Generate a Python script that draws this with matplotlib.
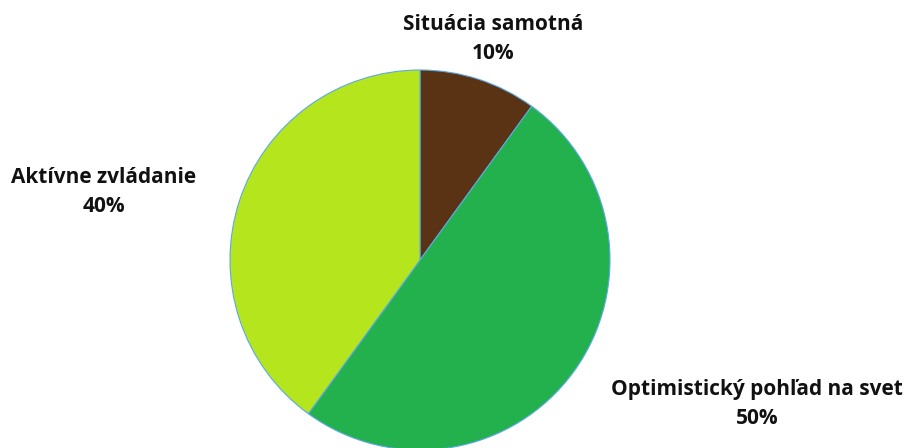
import matplotlib.pyplot as plt

# ── Data ────────────────────────────────────────────────────────────────────────
labels = ['Situácia samotná', 'Optimistický pohľad na svet', 'Aktívne zvládanie']
values = [10, 50, 40]
colors = ['#5a3214', '#23b14d', '#b5e61d']

# label anchor positions in pixel coords (x, y from bottom)
label_pos = [(493, 409), (757, 44), (104, 256)]

plt.rcParams['font.family'] = ['Open Sans', 'DejaVu Sans']

fig = plt.figure(figsize=(9.06, 4.48), dpi=100)
ax = fig.add_axes([0, 0, 1, 1])

ax.pie(
    values,
    colors=colors,
    startangle=90,
    counterclock=False,
    center=(420, 188),
    radius=190,
    frame=True,
    wedgeprops=dict(edgecolor='#5aa9e6', linewidth=0.8),
)
ax.set_xlim(0, 906)
ax.set_ylim(0, 448)
ax.set_aspect('equal')
ax.axis('off')

for lab, v, (x, y) in zip(labels, values, label_pos):
    ax.text(x, y, f'{lab}\n{v}%', ha='center', va='center',
            fontsize=15, fontweight='bold', color='#111111', linespacing=1.55)

fig.savefig('out.png', dpi=100)
